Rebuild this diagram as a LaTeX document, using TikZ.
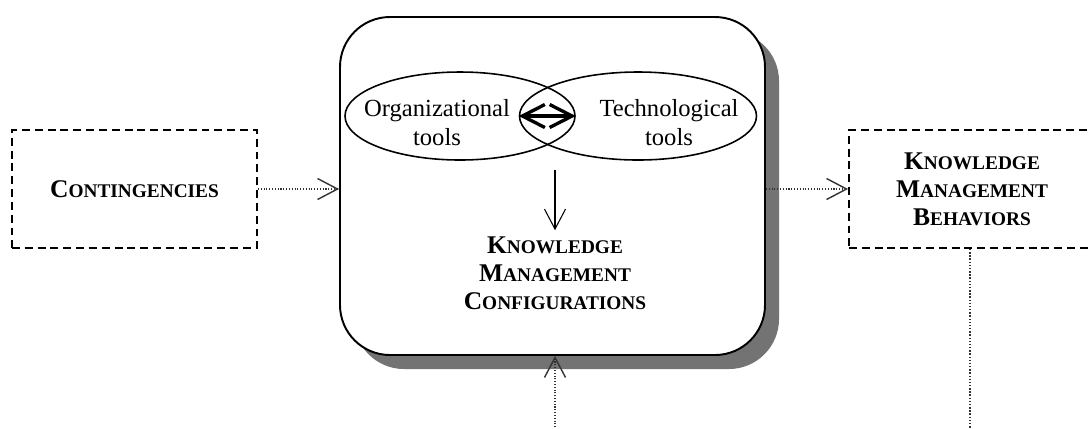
\documentclass[tikz,border=0pt]{standalone}
\usepackage{fontspec}
\setmainfont{Liberation Serif}
\usetikzlibrary{arrows.meta,positioning,shapes.geometric,shadows}

% capital first letter, smaller capitals after it
\newcommand{\bigsc}[2]{{\fontsize{14.5}{16}\selectfont #1}{\fontsize{11}{16}\selectfont #2}}

\tikzset{
  dblk/.style={draw, rectangle, dash pattern=on 4.5pt off 2.8pt, line width=1.1pt, minimum height=2.36cm, align=center, font=\bfseries\fontsize{14}{16}\selectfont},
  mainblk/.style={draw, rectangle, rounded corners=1cm, line width=1.1pt, fill=white, minimum width=8.5cm, minimum height=6.76cm,
    drop shadow={shadow xshift=0.28cm, shadow yshift=-0.28cm, fill=black!55, opacity=1}},
  tool/.style={draw, ellipse, line width=0.9pt, inner sep=0pt, minimum height=1.76cm},
  tooltxt/.style={align=center, font=\fontsize{14}{16.5}\selectfont},
  kmtxt/.style={align=center, font=\bfseries\fontsize{14}{16}\selectfont},
  arr/.style={-{Straight Barb[length=4mm,width=4.2mm]}, line width=0.6pt},
  darr/.style={arr, densely dotted, line width=0.8pt, black!80},
  dline/.style={densely dotted, line width=0.8pt, black!80},
  dblarr/.style={{Straight Barb[length=4.5mm,width=4.6mm]}-{Straight Barb[length=4.5mm,width=4.6mm]}, line width=1.9pt},
}

\begin{document}
\begin{tikzpicture}

\useasboundingbox (0,0) rectangle (21.76,-8.56);
\clip (0,0) rectangle (21.76,-8.56);

\node[dblk, minimum width=4.9cm] (cont) at (2.69,-3.78) {\bigsc{C}{ONTINGENCIES}};

\node[mainblk] (cfgbox) at (11.05,-3.72) {};
\node[tool, minimum width=4.6cm] (org) at (9.2,-2.32) {};
\node[tool, minimum width=4.74cm] (tech) at (12.76,-2.32) {};
\node[tooltxt] (orgtxt) at (8.74,-2.46) {Organizational\\tools};
\node[tooltxt] (techtxt) at (13.38,-2.46) {Technological\\tools};
\draw[dblarr] (tech.west) -- (org.east);

\coordinate (toolsout) at (11.1,-3.4);
\node[kmtxt] (kmc) at (11.1,-5.46)
  {\bigsc{K}{NOWLEDGE}\\\bigsc{M}{ANAGEMENT}\\\bigsc{C}{ONFIGURATIONS}};
\draw[arr] (toolsout) -- (kmc);

\node[dblk, minimum width=4.92cm] (kmb) at (19.44,-3.78)
  {\bigsc{K}{NOWLEDGE}\\\bigsc{M}{ANAGEMENT}\\\bigsc{B}{EHAVIORS}};

\draw[darr] (cont.east) -- (cont.east -| cfgbox.west);
\draw[darr] (cfgbox.east |- kmb.west) -- (kmb.west);

\coordinate (inflow) at (11.1,-8.6);
\draw[darr] (inflow) -- (inflow |- cfgbox.south);
\coordinate (kmbout) at (19.4,-8.6);
\draw[dline] (kmb.south -| kmbout) -- (kmbout);

\end{tikzpicture}
\end{document}
